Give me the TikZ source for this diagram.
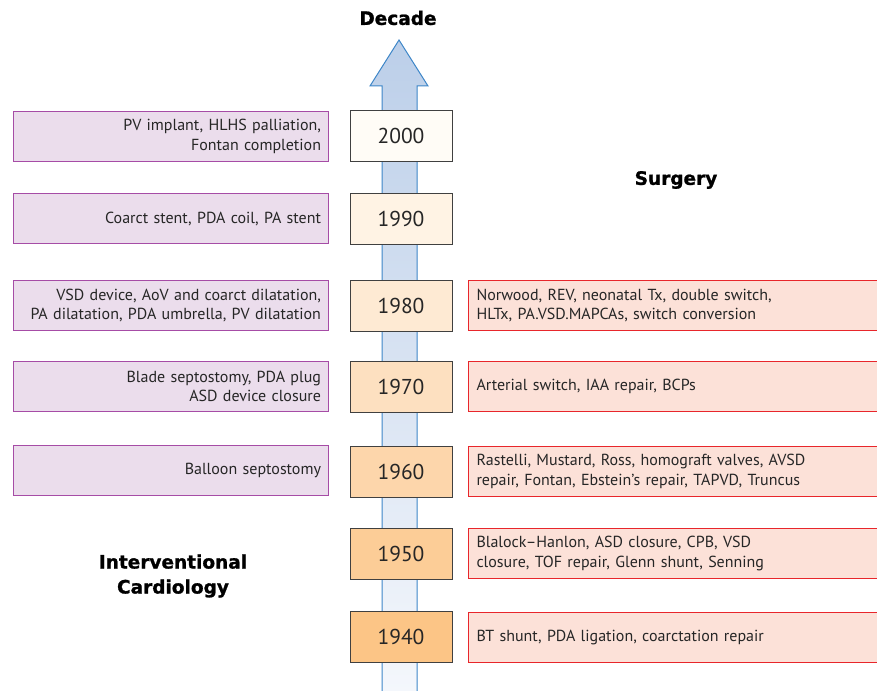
\documentclass[tikz,border=0pt]{standalone}
\usepackage{fontspec}
\setmainfont{PT Sans}
\newfontfamily\headfont[BoldFeatures={FakeBold=1.2}]{DejaVu Sans}
\begin{document}
\begin{tikzpicture}[x=1pt,y=-1pt,
  every node/.style={font=\fontsize{16}{19.5}\selectfont, text=black!85},
  decadebox/.style={draw=black!75, line width=0.9pt, minimum width=102pt, minimum height=51pt,
    inner sep=0pt, font=\fontsize{21.5}{24}\selectfont},
  icbox/.style={draw=icedge, fill=icfill, line width=1pt, minimum width=315pt, minimum height=50pt,
    text width=301pt, align=right, inner xsep=7pt, inner ysep=0pt},
  surgbox/.style={draw=sgedge, fill=sgfill, line width=1pt, minimum width=412pt, minimum height=50pt,
    text width=396pt, align=left, inner xsep=8pt, inner ysep=0pt, anchor=west},
  heading/.style={font=\headfont\bfseries\fontsize{18.5}{25}\selectfont, text=black, align=center}]
\definecolor{icedge}{HTML}{A64CA6}
\definecolor{icfill}{HTML}{EBDDEC}
\definecolor{sgedge}{HTML}{E8262B}
\definecolor{sgfill}{HTML}{FCE1D8}
\definecolor{arrowedge}{HTML}{3D86C8}
\definecolor{arrowtop}{HTML}{BCCFE9}
\definecolor{arrowbot}{HTML}{F4F7FC}
\useasboundingbox (0,0) rectangle (877,690);

% timeline arrow
\shade[top color=arrowtop, bottom color=arrowbot]
  (382,692) -- (382,86) -- (370,86) -- (399,40) -- (428,86) -- (417,86) -- (417,692) -- cycle;
\draw[arrowedge, line width=1pt, line join=miter]
  (382,692) -- (382,86) -- (370,86) -- (399,40) -- (428,86) -- (417,86) -- (417,692);

% headings
\node[heading] (hdecade) at (398,18) {Decade};
\node[heading] (hsurg) at (676,180) {Surgery};
\node[heading] (hic) at (173,576) {Interventional\\Cardiology};

% decades
\node[decadebox, fill={rgb,255:red,255;green,252;blue,246}] (d2000) at (401,135.5) {2000};
\node[decadebox, fill={rgb,255:red,255;green,243;blue,228}] (d1990) at (401,218.5) {1990};
\node[decadebox, fill={rgb,255:red,254;green,234;blue,211}] (d1980) at (401,305.5) {1980};
\node[decadebox, fill={rgb,255:red,253;green,224;blue,192}] (d1970) at (401,386.5) {1970};
\node[decadebox, fill={rgb,255:red,253;green,214;blue,171}] (d1960) at (401,471.5) {1960};
\node[decadebox, fill={rgb,255:red,252;green,205;blue,151}] (d1950) at (401,553.5) {1950};
\node[decadebox, fill={rgb,255:red,252;green,197;blue,134}] (d1940) at (401,636.5) {1940};

% interventional cardiology
\node[icbox] (ic2000) at (170.5,136.5) {PV implant, HLHS palliation,\\Fontan completion};
\node[icbox] (ic1990) at (170.5,218.5) {Coarct stent, PDA coil, PA stent};
\node[icbox] (ic1980) at (170.5,305.5) {VSD device, AoV and coarct dilatation,\\PA dilatation, PDA umbrella, PV dilatation};
\node[icbox] (ic1970) at (170.5,386.5) {Blade septostomy, PDA plug\\ASD device closure};
\node[icbox] (ic1960) at (170.5,470.5) {Balloon septostomy};

% surgery
\node[surgbox] (s1980) at (468,305.5) {Norwood, REV, neonatal Tx, double switch,\\HLTx, PA.VSD.MAPCAs, switch conversion};
\node[surgbox] (s1970) at (468,386.5) {Arterial switch, IAA repair, BCPs};
\node[surgbox] (s1960) at (468,471.5) {Rastelli, Mustard, Ross, homograft valves, AVSD\\repair, Fontan, Ebstein's repair, TAPVD, Truncus};
\node[surgbox] (s1950) at (468,553.5) {Blalock--Hanlon, ASD closure, CPB, VSD\\closure, TOF repair, Glenn shunt, Senning};
\node[surgbox] (s1940) at (468,637) {BT shunt, PDA ligation, coarctation repair};
\end{tikzpicture}
\end{document}
